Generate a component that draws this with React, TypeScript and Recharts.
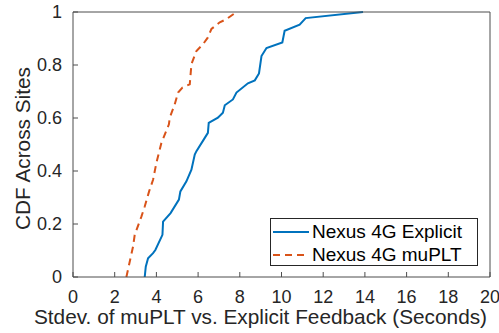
import { LineChart, Line, XAxis, YAxis, Legend } from 'recharts';

const explicitX = [3.44, 3.49, 3.6, 3.84, 3.95, 4.29, 4.32, 4.68, 5.08, 5.15, 5.44, 5.68, 5.84, 5.92, 6.32, 6.47, 6.51, 6.95, 7.19, 7.28, 7.67, 7.84, 8.39, 8.72, 8.92, 9.04, 9.28, 10.04, 10.15, 10.87, 11.16, 13.91];
const explicitY = [0, 0.039, 0.071, 0.09, 0.102, 0.159, 0.209, 0.241, 0.292, 0.323, 0.361, 0.405, 0.462, 0.475, 0.525, 0.544, 0.582, 0.601, 0.62, 0.648, 0.67, 0.696, 0.731, 0.742, 0.768, 0.834, 0.864, 0.885, 0.929, 0.952, 0.977, 1];

const muPltX = [2.56, 2.88, 2.96, 3.28, 3.44, 3.65, 3.84, 4.0, 4.24, 4.6, 4.64, 4.88, 5.04, 5.25, 5.6, 5.68, 5.92, 6.24, 6.47, 6.64, 7.04, 7.36, 7.84];
const muPltY = [0, 0.115, 0.159, 0.228, 0.266, 0.323, 0.367, 0.431, 0.506, 0.576, 0.601, 0.652, 0.696, 0.715, 0.727, 0.803, 0.853, 0.879, 0.904, 0.936, 0.961, 0.973, 1];

const xTicks = [0, 2, 4, 6, 8, 10, 12, 14, 16, 18, 20];
const yTicks = [0, 0.2, 0.4, 0.6, 0.8, 1];
const seriesNames = ['Nexus 4G Explicit', 'Nexus 4G muPLT'];

const explicitData = explicitX.map((x, i) => ({ x, y: explicitY[i] }));
const muPltData = muPltX.map((x, i) => ({ x, y: muPltY[i] }));

const FONT = '"Liberation Sans", Arial, Helvetica, sans-serif';
const AXIS = '#4d4d4d';
const BLUE = '#0072BD';
const ORANGE = '#D95319';

// tick marks only, no labels (top and right edges of the box)
const noLabel = () => <g />;

function LegendBox() {
  const rows = [
    { name: seriesNames[0], color: BLUE, dash: undefined },
    { name: seriesNames[1], color: ORANGE, dash: '7 5' },
  ];
  return (
    <div
      style={{
        boxSizing: 'border-box',
        width: 208,
        height: 48,
        border: '1px solid #262626',
        background: '#fff',
        paddingTop: 1,
        paddingLeft: 2,
        fontFamily: FONT,
        fontSize: 19,
        color: '#000',
      }}
    >
      {rows.map((r) => (
        <div key={r.name} style={{ display: 'flex', alignItems: 'center', height: 23 }}>
          <svg width={36} height={6} style={{ marginRight: 3 }}>
            <line x1={0} y1={3} x2={36} y2={3} stroke={r.color} strokeWidth={2} strokeDasharray={r.dash} />
          </svg>
          <span style={{ lineHeight: '23px', whiteSpace: 'nowrap' }}>{r.name}</span>
        </div>
      ))}
    </div>
  );
}

export default function App() {
  return (
    <div style={{ position: 'absolute', left: 0, top: 0, width: 499, height: 333, background: '#fff' }}>
      <LineChart width={499} height={333} margin={{ top: 11, right: 8, bottom: 0, left: 0 }}>
        <XAxis
          dataKey="x"
          type="number"
          domain={[0, 20]}
          ticks={xTicks}
          allowDataOverflow
          height={56}
          stroke={AXIS}
          tickSize={-5}
          tickMargin={18}
          tick={{ fill: '#262626', fontSize: 18, fontFamily: FONT }}
          label={{
            content: ({ viewBox }: any) => (
              <text
                x={260.5}
                y={viewBox.y + viewBox.height - 9}
                textAnchor="middle"
                fill="#262626"
                fontSize={20.8}
                fontFamily={FONT}
              >
                Stdev. of muPLT vs. Explicit Feedback (Seconds)
              </text>
            ),
          }}
        />
        <XAxis
          xAxisId="top"
          orientation="top"
          dataKey="x"
          type="number"
          domain={[0, 20]}
          ticks={xTicks}
          height={1}
          stroke={AXIS}
          tickSize={-5}
          tick={noLabel}
        />
        <YAxis
          type="number"
          domain={[0, 1]}
          ticks={yTicks}
          width={73}
          stroke={AXIS}
          tickSize={-5}
          tickMargin={16}
          tick={{ fill: '#262626', fontSize: 18, fontFamily: FONT }}
          label={{
            content: ({ viewBox }: any) => (
              <text
                x={22}
                y={viewBox.y + viewBox.height / 2 + 4}
                transform={`rotate(-90 22 ${viewBox.y + viewBox.height / 2 + 4})`}
                textAnchor="middle"
                dominantBaseline="central"
                fill="#262626"
                fontSize={20.8}
                fontFamily={FONT}
              >
                CDF Across Sites
              </text>
            ),
          }}
        />
        <YAxis
          yAxisId="right"
          orientation="right"
          type="number"
          domain={[0, 1]}
          ticks={yTicks}
          width={1}
          stroke={AXIS}
          tickSize={-5}
          tick={noLabel}
        />
        <Line
          data={explicitData}
          dataKey="y"
          name={seriesNames[0]}
          type="linear"
          stroke={BLUE}
          strokeWidth={2}
          dot={false}
          isAnimationActive={false}
        />
        <Line
          data={muPltData}
          dataKey="y"
          name={seriesNames[1]}
          type="linear"
          stroke={ORANGE}
          strokeWidth={2}
          strokeDasharray="7 5"
          dot={false}
          isAnimationActive={false}
        />
        <Legend
          layout="vertical"
          align="center"
          verticalAlign="middle"
          wrapperStyle={{ left: 270, top: 218, width: 208 }}
          content={() => <LegendBox />}
        />
      </LineChart>
    </div>
  );
}
